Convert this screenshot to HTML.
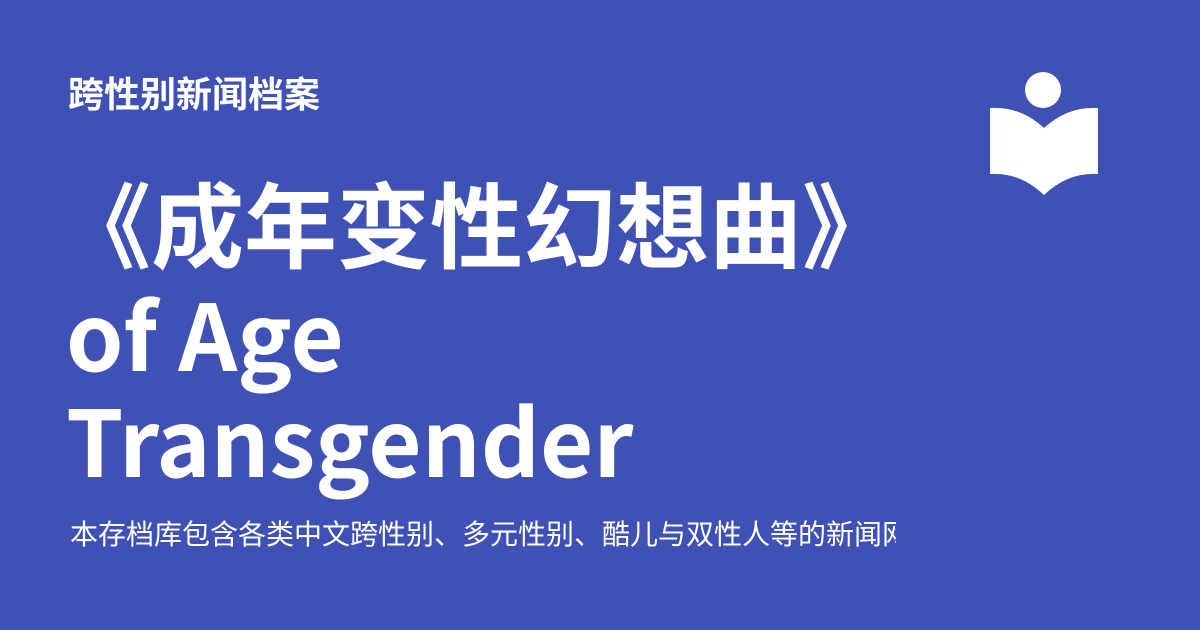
<!DOCTYPE html>
<html><head><meta charset="utf-8"><style>
html,body{margin:0;padding:0}
body{width:1200px;height:630px;background:#3f51b5;position:relative;overflow:hidden;font-family:"Noto Sans CJK SC","Liberation Sans",sans-serif;color:#fff}
.t{position:absolute;left:68px;white-space:nowrap;font-weight:700}
</style></head><body>
<div class="t" style="top:70px;font-size:36px;line-height:44px;left:68px">跨性别新闻档案</div>
<div class="t" style="top:167px;font-size:93px;line-height:108px;left:58px">《成年变性幻想曲》</div>
<div class="t" style="top:278px;font-size:92px;line-height:108px;left:66px">of Age</div>
<div class="t" style="top:384px;font-size:92px;line-height:108px;left:66px">Transgender</div>
<div class="t" style="top:514px;font-size:28px;line-height:38px;font-weight:400;left:70px;width:826px;overflow:hidden">本存档库包含各类中文跨性别、多元性别、酷儿与双性人等的新闻网站</div>
<svg style="position:absolute;left:0;top:0" width="1200" height="630">
<circle cx="1043" cy="90" r="18" fill="#fff"/>
<path d="M990 108 Q1020 106 1044 128 Q1068 106 1098 108 L1098 174 Q1068 172 1044 195 Q1020 172 990 174 Z" fill="#fff"/>
</svg>
</body></html>
